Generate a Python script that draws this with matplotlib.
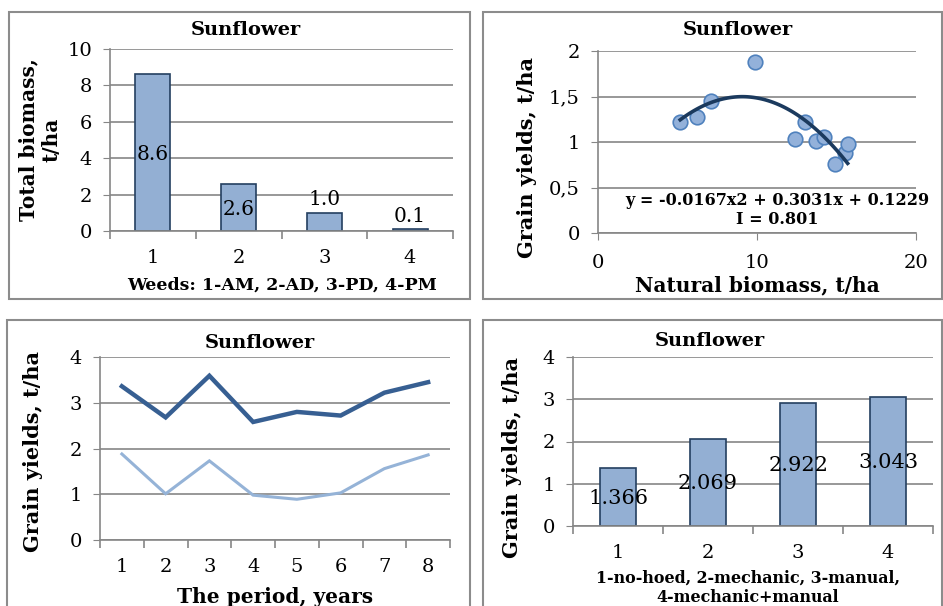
import numpy as np
import matplotlib.pyplot as plt
from matplotlib.patches import Rectangle

# panel 1: total biomass of weeds
weed_groups = ['1', '2', '3', '4']
weed_biomass = [8.6, 2.6, 1.0, 0.1]

# panel 2: natural biomass vs grain yield
nat_biomass = [5.17, 6.2, 7.1, 9.88, 12.4, 13.0, 13.68, 14.24, 14.9, 15.54, 15.7]
nat_yield = [1.22, 1.276, 1.455, 1.88, 1.03, 1.22, 1.01, 1.053, 0.753, 0.874, 0.98]
trend_coef = [-0.0167, 0.3031, 0.1229]

# panel 3: yields over the period
years = ['1', '2', '3', '4', '5', '6', '7', '8']
yield_high = [3.36, 2.68, 3.59, 2.58, 2.80, 2.72, 3.22, 3.45]
yield_low = [1.88, 1.01, 1.73, 0.98, 0.89, 1.03, 1.56, 1.86]

# panel 4: hoeing methods
methods = ['1', '2', '3', '4']
method_yield = [1.366, 2.069, 2.922, 3.043]

W, H = 943, 606
plt.rcParams['font.family'] = 'DejaVu Serif'

grid_col = '#868686'
bar_col = '#93AFD3'
bar_edge = '#243F60'

fig = plt.figure(figsize=(W / 100, H / 100), dpi=100)


def px_axes(x0, y0, x1, y1):
    # pixel box (left, top, right, bottom) -> axes
    return fig.add_axes([x0 / W, 1 - y1 / H, (x1 - x0) / W, (y1 - y0) / H])


def panel_box(x0, y0, x1, y1):
    fig.patches.append(Rectangle((x0 / W, 1 - y1 / H), (x1 - x0) / W, (y1 - y0) / H,
                                 transform=fig.transFigure, fill=False,
                                 edgecolor='#8C8C8C', lw=1.5))


def ftext(x, y, s, size, rot=0):
    fig.text(x / W, 1 - y / H, s, ha='center', va='center', fontsize=size,
             fontweight='bold', rotation=rot, linespacing=1.25)


def style_ax(ax):
    for side in ['top', 'right']:
        ax.spines[side].set_visible(False)
    for side in ['left', 'bottom']:
        ax.spines[side].set_color(grid_col)
        ax.spines[side].set_linewidth(1.2)
    ax.yaxis.grid(True, color=grid_col, lw=1.2)
    ax.set_axisbelow(True)
    ax.tick_params(axis='y', length=5, color=grid_col, labelsize=14, pad=8)
    ax.tick_params(axis='x', labelsize=14)


def category_axis(ax, labels):
    n = len(labels)
    ax.set_xlim(0.5, n + 0.5)
    ax.set_xticks(range(1, n + 1))
    ax.set_xticklabels(labels)
    ax.set_xticks(np.arange(0.5, n + 1), minor=True)
    ax.tick_params(axis='x', which='major', length=0, pad=13)
    ax.tick_params(axis='x', which='minor', length=6, color=grid_col, width=1.2)


panel_box(9, 12, 470, 299)
panel_box(483, 12, 942, 299)
panel_box(7, 320, 470, 610)
panel_box(483, 320, 942, 610)

# panel 1
ax1 = px_axes(110, 49, 453, 231)
style_ax(ax1)
x1 = np.arange(1, len(weed_biomass) + 1)
ax1.bar(x1, weed_biomass, width=0.41, color=bar_col, edgecolor=bar_edge, lw=1.2)
category_axis(ax1, weed_groups)
ax1.set_ylim(0, 10)
ax1.set_yticks([0, 2, 4, 6, 8, 10])
for xi, v in zip(x1, weed_biomass):
    if v >= 2:
        ax1.text(xi, v / 2 - 0.1, f'{v:.1f}', ha='center', va='center', fontsize=14.5)
    else:
        ax1.text(xi, v + 0.2, f'{v:.1f}', ha='center', va='bottom', fontsize=14.5)
ftext(40, 140, 'Total biomass,\nt/ha', 14.5, rot=90)
ftext(246, 30, 'Sunflower', 14)
ftext(282, 285, 'Weeds: 1-AM, 2-AD, 3-PD, 4-PM', 12.5)

# panel 2
ax2 = px_axes(598, 51, 916, 233)
style_ax(ax2)
ax2.scatter(nat_biomass, nat_yield, s=110, color='#93B1DA', edgecolor='#4F81BD',
            lw=1.2, zorder=3)
xs = np.linspace(min(nat_biomass), max(nat_biomass), 100)
ax2.plot(xs, np.polyval(trend_coef, xs), color='#1B3A5E', lw=2.6, zorder=4)
ax2.set_xlim(0, 20)
ax2.set_ylim(0, 2)
ax2.set_xticks([0, 10, 20])
ax2.set_yticks([0, 0.5, 1, 1.5, 2])
ax2.set_yticklabels(['0', '0,5', '1', '1,5', '2'])
ax2.tick_params(axis='x', length=5, color=grid_col, pad=10)
ax2.text(11.3, 0.36, 'y = -0.0167x2 + 0.3031x + 0.1229', ha='center', va='center',
         fontsize=11.5, fontweight='bold')
ax2.text(11.3, 0.15, 'I = 0.801', ha='center', va='center', fontsize=11.5,
         fontweight='bold')
ftext(527, 157, 'Grain yields, t/ha', 15, rot=90)
ftext(738, 30, 'Sunflower', 14)
ftext(757, 285, 'Natural biomass, t/ha', 14.5)

# panel 3
ax3 = px_axes(100, 357, 450, 540)
style_ax(ax3)
x3 = np.arange(1, len(years) + 1)
ax3.plot(x3, yield_high, color='#375F92', lw=3.2, solid_joinstyle='miter')
ax3.plot(x3, yield_low, color='#95B3D7', lw=2.2, solid_joinstyle='miter')
category_axis(ax3, years)
ax3.set_ylim(0, 4)
ax3.set_yticks([0, 1, 2, 3, 4])
ftext(33, 452, 'Grain yields, t/ha', 15, rot=90)
ftext(260, 343, 'Sunflower', 14)
ftext(275, 597, 'The period, years', 14.5)

# panel 4
ax4 = px_axes(573, 357, 933, 526)
style_ax(ax4)
x4 = np.arange(1, len(method_yield) + 1)
ax4.bar(x4, method_yield, width=0.40, color=bar_col, edgecolor=bar_edge, lw=1.2)
category_axis(ax4, methods)
ax4.set_ylim(0, 4)
ax4.set_yticks([0, 1, 2, 3, 4])
for xi, v in zip(x4, method_yield):
    ax4.text(xi, v / 2 - 0.03, f'{v:.3f}', ha='center', va='center', fontsize=15)
ftext(512, 457, 'Grain yields, t/ha', 15, rot=90)
ftext(710, 341, 'Sunflower', 14)
ftext(748, 578, '1-no-hoed, 2-mechanic, 3-manual,', 11.4)
ftext(748, 598, '4-mechanic+manual', 11.4)

fig.savefig('out.png', dpi=100)
